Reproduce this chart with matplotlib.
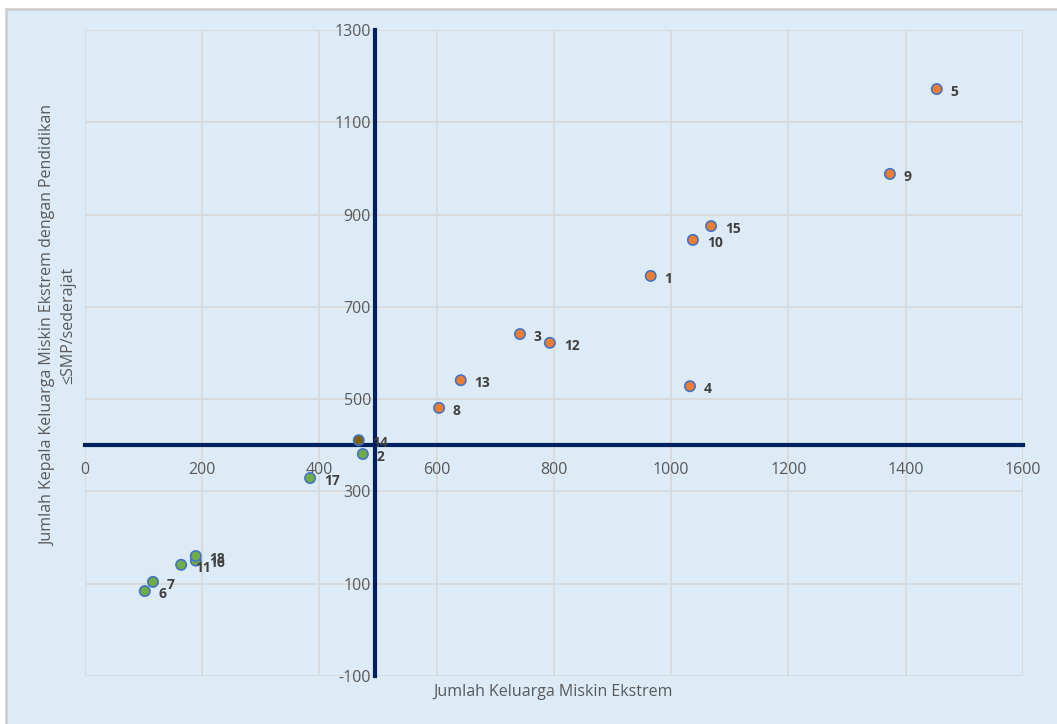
import numpy as np
import matplotlib.pyplot as plt
from matplotlib.patches import Rectangle

plt.rcParams['font.family'] = ['Open Sans', 'DejaVu Sans']
plt.rcParams['axes.unicode_minus'] = False

# nomor wilayah, jumlah keluarga miskin ekstrem, jumlah KK pendidikan <=SMP
labels = ['1', '2', '3', '4', '5', '6', '7', '8', '9', '10', '11', '12', '13', '14', '15', '16', '17', '18']
x_vals = [965, 474, 742, 1032, 1453, 102, 116, 604, 1373, 1037, 164, 793, 641, 467, 1068, 189, 384, 189]
y_vals = [767, 381, 641, 528, 1172, 84, 104, 481, 988, 845, 141, 622, 541, 411, 875, 150, 329, 160]
x_cross = 495
y_cross = 400

bg = '#DDEBF7'
fig = plt.figure(figsize=(10.57, 7.24), dpi=100, facecolor='white')
fig.patches.append(Rectangle((0.006, -0.01), 1.1, 0.998, transform=fig.transFigure,
                             facecolor=bg, edgecolor='#D0D0D0', linewidth=2, zorder=-10))
ax = fig.add_axes([0.0804, 0.0663, 0.8874, 0.8923])
ax.set_facecolor(bg)

ax.set_xlim(0, 1600)
ax.set_ylim(-100, 1300)
ax.set_xticks(np.arange(0, 1601, 200))
ax.set_yticks(np.arange(-100, 1301, 200))
ax.grid(True, color='#D9D9D9', linewidth=1.3)
ax.set_axisbelow(True)

for s in ['top', 'right']:
    ax.spines[s].set_visible(False)
ax.spines['left'].set_position(('data', x_cross))
ax.spines['bottom'].set_position(('data', y_cross))
for s in ['left', 'bottom']:
    ax.spines[s].set_color('#002060')
    ax.spines[s].set_linewidth(3)
    ax.spines[s].set_zorder(1)
ax.tick_params(axis='both', length=0, labelsize=11.5, labelcolor='#595959')
ax.tick_params(axis='x', pad=12)
ax.tick_params(axis='y', pad=3)

colors = []
for xv, yv, lb in zip(x_vals, y_vals, labels):
    if lb == '14':
        colors.append('#7F6000')
    elif yv >= y_cross:
        colors.append('#ED7D31')
    else:
        colors.append('#70AD47')
ax.scatter(x_vals, y_vals, s=55, c=colors, edgecolors='#4472C4', linewidths=1.2, zorder=3)

for xv, yv, lb in zip(x_vals, y_vals, labels):
    ax.annotate(lb, (xv, yv), xytext=(10, -2), textcoords='offset points',
                ha='left', va='center', fontsize=10, fontweight='bold', color='#404040', zorder=4)

fig.text(0.523, 0.044, 'Jumlah Keluarga Miskin Ekstrem', ha='center', va='center',
         fontsize=11.5, color='#595959')
fig.text(0.055, 0.55, 'Jumlah Kepala Keluarga Miskin Ekstrem dengan Pendidikan\n≤SMP/sederajat',
         ha='center', va='center', rotation=90, fontsize=11.5, color='#595959', linespacing=1.3)

fig.savefig('out.png', dpi=100, facecolor=fig.get_facecolor())
